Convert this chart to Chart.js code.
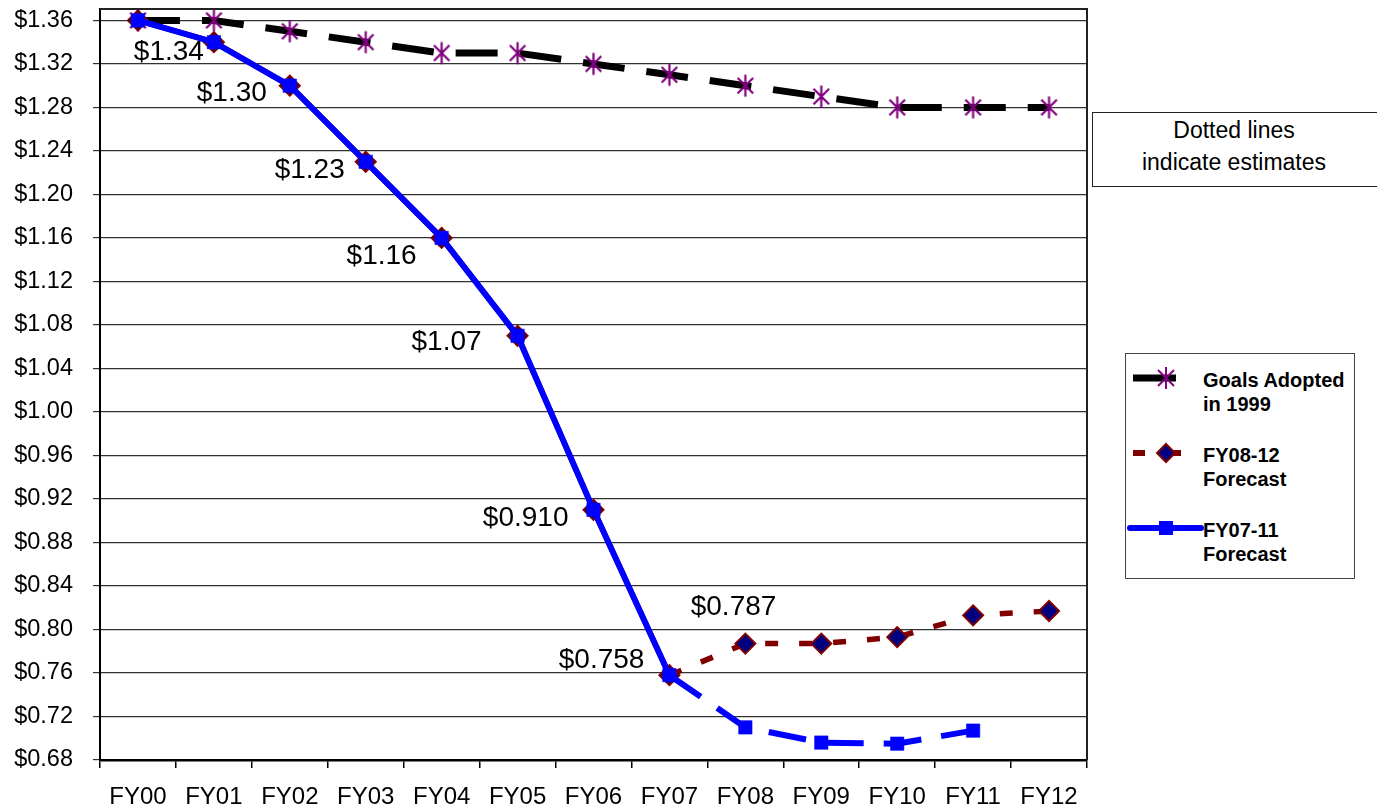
<!DOCTYPE html>
<html>
<head>
<meta charset="utf-8">
<title>Cost per unit: goals vs. forecasts</title>
<script src="https://cdn.jsdelivr.net/npm/chart.js@4.4.1/dist/chart.umd.min.js"></script>
<style>
  html, body { margin: 0; padding: 0; background: #fff; overflow: hidden; }
  #wrap { position: relative; width: 1377px; height: 812px; }
  #c { position: absolute; left: 0; top: 0; }
  .note {
    position: absolute; left: 1092px; top: 112px; width: 300px; height: 75px;
    box-sizing: border-box; border: 1.5px solid #222; background: #fff;
    font: 23px "Liberation Sans", Arial, sans-serif; color: #000;
    line-height: 32px; padding-top: 1px; padding-right: 16px; text-align: center;
  }
  .legend {
    position: absolute; left: 1125px; top: 353px; width: 230px; height: 226px;
    box-sizing: border-box; border: 1.5px solid #444; background: #fff;
  }
  .legend svg { position: absolute; left: 0; top: 0; }
  .legend .item {
    position: absolute; left: 77px;
    font: bold 20px "Liberation Sans", Arial, sans-serif; color: #000; line-height: 24px;
  }
</style>
</head>
<body>
<div id="wrap">
  <canvas id="c" width="1377" height="812"></canvas>
  <div class="note">Dotted lines<br>indicate estimates</div>
  <div class="legend">
    <svg width="230" height="226" viewBox="0 0 230 226">
      <!-- Goals Adopted in 1999 -->
      <line x1="7" y1="24" x2="50" y2="24" stroke="#000" stroke-width="7"/>
      <g stroke="#800080" stroke-width="2">
        <line x1="40" y1="13" x2="40" y2="35"/>
        <line x1="32" y1="16" x2="48" y2="32"/>
        <line x1="48" y1="16" x2="32" y2="32"/>
      </g>
      <!-- FY08-12 Forecast -->
      <line x1="7" y1="99" x2="19" y2="99" stroke="#800000" stroke-width="6"/>
      <line x1="44" y1="99" x2="55" y2="99" stroke="#800000" stroke-width="6"/>
      <polygon points="40,90 49,99 40,108 31,99" fill="#000080" stroke="#800000" stroke-width="2"/>
      <!-- FY07-11 Forecast -->
      <line x1="4" y1="174" x2="75" y2="174" stroke="#0000ff" stroke-width="6" stroke-linecap="round"/>
      <rect x="33" y="167" width="14" height="14" fill="#0000ff"/>
    </svg>
    <div class="item" style="top:14px">Goals Adopted<br>in 1999</div>
    <div class="item" style="top:89px">FY08-12<br>Forecast</div>
    <div class="item" style="top:164px">FY07-11<br>Forecast</div>
  </div>
</div>
<script>
// Fiscal years on the category axis
const categories = ['FY00', 'FY01', 'FY02', 'FY03', 'FY04', 'FY05', 'FY06',
                    'FY07', 'FY08', 'FY09', 'FY10', 'FY11', 'FY12'];

// Cost goals adopted in 1999
const goals1999 = [1.36, 1.36, 1.35, 1.34, 1.33, 1.33, 1.32, 1.31, 1.30, 1.29, 1.28, 1.28, 1.28];

// FY08-12 forecast (actuals through FY07, estimates after)
const forecastFY08_12 = [1.36, 1.34, 1.30, 1.23, 1.16, 1.07, 0.91, 0.758, 0.787, 0.787, 0.793, 0.813, 0.817];

// FY07-11 forecast (actuals through FY07, estimates after)
const forecastFY07_11 = [1.36, 1.34, 1.30, 1.23, 1.16, 1.07, 0.91, 0.758, 0.710, 0.696, 0.695, 0.707, null];

// Y axis tick values
const yTickValues = [0.68, 0.72, 0.76, 0.80, 0.84, 0.88, 0.92, 0.96, 1.00,
                     1.04, 1.08, 1.12, 1.16, 1.20, 1.24, 1.28, 1.32, 1.36];

// Points whose values are printed next to them
const labelledYears = ['FY01', 'FY02', 'FY03', 'FY04', 'FY05', 'FY06', 'FY07', 'FY08'];

// First year drawn as an estimate (dashed from here on)
const firstEstimateYear = 'FY07';

// --- styling ---------------------------------------------------------------
const FONT = '"Liberation Sans", Arial, sans-serif';
const estimateStart = categories.indexOf(firstEstimateYear);

// Text placement for the value labels: [right edge dx, centre dy] from the point
const labelPlacement = {
  FY01: [-10, 10], FY02: [-23, 8], FY03: [-21, 8], FY04: [-25, 18],
  FY05: [-36, 6], FY06: [-25, 8], FY07: [-25, -15], FY08: [31, -36]
};

// Six-spoke asterisk marker used for the goals series
function makeAsterisk(r, color, width) {
  const size = Math.ceil(2 * r + width + 2);
  const cv = document.createElement('canvas');
  cv.width = size; cv.height = size;
  const g = cv.getContext('2d');
  const c = size / 2, d = r * Math.SQRT1_2;
  g.strokeStyle = color; g.lineWidth = width;
  g.beginPath();
  g.moveTo(c, c - r); g.lineTo(c, c + r);
  g.moveTo(c - d, c - d); g.lineTo(c + d, c + d);
  g.moveTo(c + d, c - d); g.lineTo(c - d, c + d);
  g.stroke();
  return cv;
}
const asterisk = makeAsterisk(11, '#800080', 2.2);

// Frame along the top and right of the plot area
const plotFrame = {
  id: 'plotFrame',
  beforeDatasetsDraw(chart) {
    const { ctx, chartArea: a } = chart;
    ctx.save();
    ctx.strokeStyle = '#222';
    ctx.lineWidth = 2;
    ctx.beginPath();
    ctx.moveTo(a.left, a.top);
    ctx.lineTo(a.right, a.top);
    ctx.lineTo(a.right, a.bottom);
    ctx.stroke();
    ctx.restore();
  }
};

// Dollar labels beside the forecast points
const valueLabels = {
  id: 'valueLabels',
  afterDatasetsDraw(chart) {
    const { ctx } = chart;
    const meta = chart.getDatasetMeta(1);
    ctx.save();
    ctx.font = '28px ' + FONT;
    ctx.fillStyle = '#000';
    ctx.textAlign = 'right';
    ctx.textBaseline = 'middle';
    labelledYears.forEach(year => {
      const i = categories.indexOf(year);
      const pt = meta.data[i];
      const [dx, dy] = labelPlacement[year];
      ctx.fillText('$' + forecastFY08_12[i].toPrecision(3), pt.x + dx, pt.y + dy);
    });
    ctx.restore();
  }
};

const dashAfter = (dash) => (seg) => (seg.p0DataIndex >= estimateStart ? dash : undefined);

new Chart(document.getElementById('c'), {
  type: 'line',
  data: {
    labels: categories,
    datasets: [
      {
        label: 'Goals Adopted in 1999',
        data: goals1999,
        borderColor: '#000',
        borderWidth: 7,
        borderDash: [42, 22],
        pointStyle: asterisk,
        pointRadius: 11,
        tension: 0,
        clip: false,
        order: 3
      },
      {
        label: 'FY08-12 Forecast',
        data: forecastFY08_12,
        borderColor: '#800000',
        borderWidth: 5.5,
        segment: { borderDash: dashAfter([13, 21]) },
        pointStyle: 'rectRot',
        pointRadius: 10,
        pointBackgroundColor: '#000080',
        pointBorderColor: '#800000',
        pointBorderWidth: 2,
        tension: 0,
        clip: false,
        order: 2
      },
      {
        label: 'FY07-11 Forecast',
        data: forecastFY07_11,
        borderColor: '#0000ff',
        borderWidth: 6,
        segment: { borderDash: dashAfter([38, 20]) },
        pointStyle: 'rect',
        pointRadius: 9.5,
        pointBackgroundColor: '#0000ff',
        pointBorderColor: '#0000ff',
        pointBorderWidth: 0.5,
        tension: 0,
        clip: false,
        order: 1
      }
    ]
  },
  options: {
    responsive: false,
    animation: false,
    devicePixelRatio: 1,
    layout: { autoPadding: false, padding: { top: 9, right: 290, left: 0, bottom: 0 } },
    plugins: {
      legend: { display: false },
      tooltip: { enabled: false }
    },
    scales: {
      x: {
        type: 'category',
        offset: true,
        grid: {
          offset: true,
          drawOnChartArea: false,
          drawTicks: true,
          tickLength: 8,
          color: '#000',
          lineWidth: 1.5
        },
        border: { color: '#000', width: 2.5 },
        ticks: {
          color: '#000',
          font: { family: FONT, size: 24 },
          padding: 15,
          maxRotation: 0,
          autoSkip: false
        },
        afterFit(scale) { scale.height = 52; }
      },
      y: {
        min: 0.68,
        max: 1.3705,
        afterBuildTicks(scale) { scale.ticks = yTickValues.map(v => ({ value: v })); },
        grid: { color: '#333', lineWidth: 1.2, tickLength: 7, drawTicks: true },
        border: { color: '#000', width: 2 },
        ticks: {
          color: '#000',
          font: { family: FONT, size: 23.5 },
          padding: 20,
          callback: v => '$' + Number(v).toFixed(2)
        },
        afterFit(scale) {
          scale.width = 100;
          scale.paddingTop = 0;
          scale.paddingBottom = 0;
        }
      }
    }
  },
  plugins: [plotFrame, valueLabels]
});
</script>
</body>
</html>
